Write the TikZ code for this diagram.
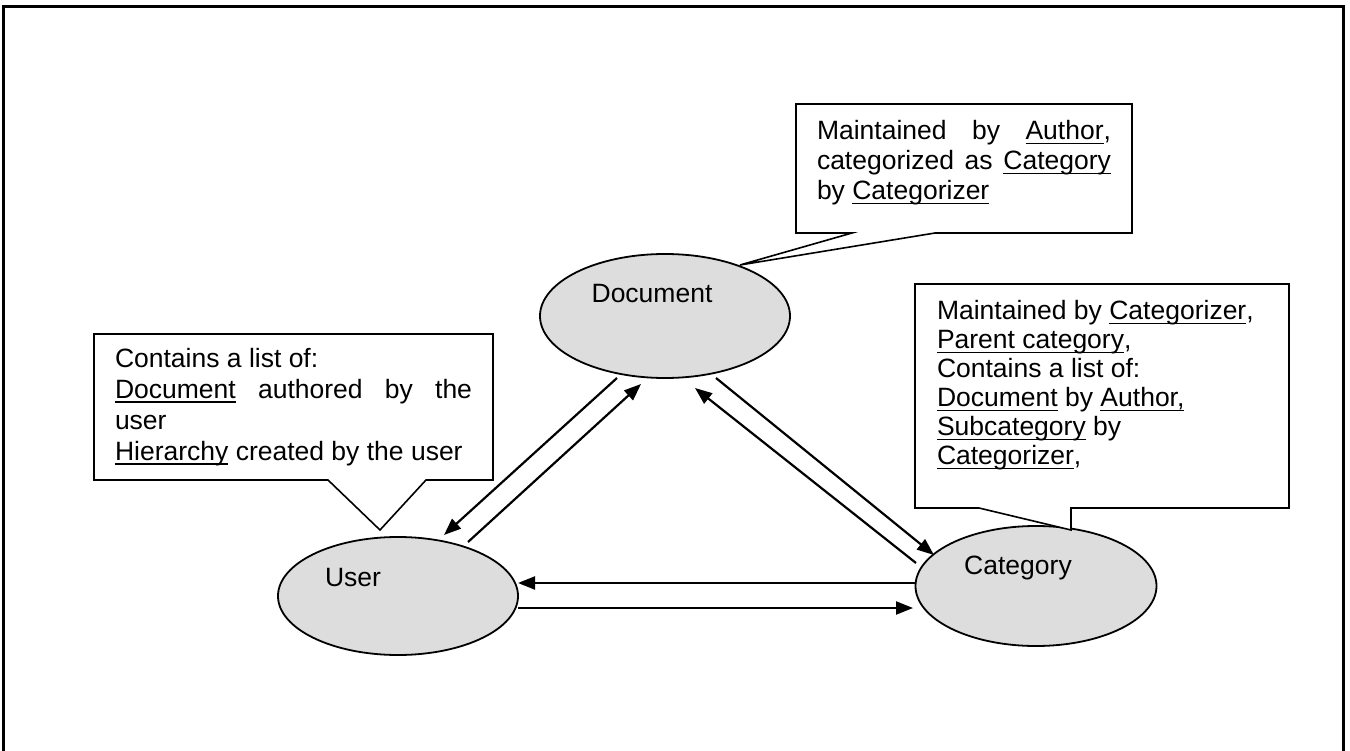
\documentclass[tikz,border=0pt]{standalone}
\usepackage{fontspec}
\setmainfont{Liberation Sans}
\usetikzlibrary{arrows.meta,shapes.geometric,calc}
\newsavebox\ulxbox
\newcommand\ulx[1]{\sbox\ulxbox{#1}\rlap{\rule[-4.5pt]{\wd\ulxbox}{1.9pt}}\usebox\ulxbox}
\newcommand\jline[2]{\hbox{\makebox[#1][s]{#2}}}
\definecolor{ellgray}{RGB}{221,221,221}
\begin{document}
\begin{tikzpicture}[x=1pt,y=-1pt,
  txt/.style={font=\fontsize{26.5}{30}\selectfont, inner sep=0pt, outer sep=0pt},
  ell/.style={ellipse, draw, line width=1.8pt, fill=ellgray, inner sep=0pt, outer sep=0pt},
  arr/.style={line width=2.2pt, -{Triangle[length=17pt,width=13pt]}},
  callout/.style={draw, line width=1.6pt, fill=white, line join=miter}
]
\useasboundingbox (0,0) rectangle (1350,751);
% outer frame
\draw[line width=3pt] (3,760) -- (3,7) -- (1343,7) -- (1343,760);

% ellipses
\node[ell, minimum width=250pt, minimum height=124pt] (doc) at (665,316) {};
\node[ell, minimum width=240pt, minimum height=118pt] (user) at (398,596) {};
\node[ell, minimum width=241pt, minimum height=120pt] (cat) at (1036,586) {};

\node[txt, anchor=base] (docl) at (652,303) {Document};
\node[txt, anchor=base] (userl) at (353,586) {User};
\node[txt, anchor=base] (catl) at (1018,574) {Category};

% connectors
\draw[arr] ($(doc)+(-48,62)$) -- ($(user)+(46,-61)$);
\draw[arr] ($(user)+(70,-54)$) -- ($(doc)+(-24,68)$);
\draw[arr] ($(cat)+(-120,-23)$) -- ($(doc)+(30,72)$);
\draw[arr] ($(doc)+(51,62)$) -- ($(cat)+(-102,-31)$);
\draw[arr] ($(cat)+(-121,-3)$) -- ($(user)+(120,-13)$);
\draw[arr] ($(user)+(120,12)$) -- ($(cat)+(-123,22)$);

% callouts
\draw[callout] (796,104) -- (1132,104) -- (1132,233) -- (935,233) -- (740,265) -- (852,233) -- (796,233) -- cycle;
\draw[callout] (94,334) -- (493,334) -- (493,480) -- (426,480) -- (380,530) -- (328,480) -- (94,480) -- cycle;
\draw[callout] (915,284) -- (1289,284) -- (1289,508) -- (1071,508) -- (1071,530) -- (979,508) -- (915,508) -- cycle;

\node[txt, anchor=base west] (doctext) at (817,140) {\vtop{\baselineskip=30pt
  \jline{294pt}{Maintained by \ulx{Author},}
  \jline{294pt}{categorized as \ulx{Category}}
  \hbox{by \ulx{Categorizer}}}};

\node[txt, anchor=base west] (usertext) at (115,368) {\vtop{\baselineskip=30.7pt
  \hbox{Contains a list of:}
  \jline{357pt}{\ulx{Document} authored by the}
  \hbox{user}
  \hbox{\ulx{Hierarchy} created by the user}}};

\node[txt, anchor=base west] (cattext) at (937,320) {\vtop{\baselineskip=29pt
  \hbox{Maintained by \ulx{Categorizer},}
  \hbox{\ulx{Parent category},}
  \hbox{Contains a list of:}
  \hbox{\ulx{Document} by \ulx{Author,}}
  \hbox{\ulx{Subcategory} by}
  \hbox{\ulx{Categorizer},}}};
\end{tikzpicture}
\end{document}
